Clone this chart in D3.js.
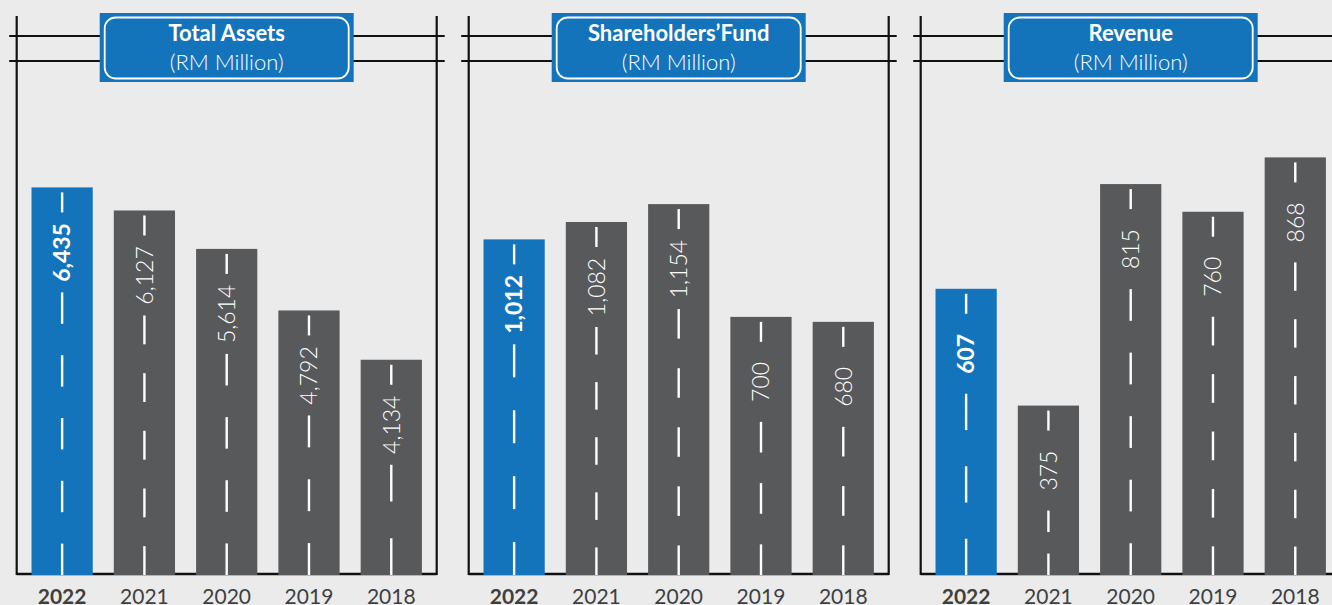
<!DOCTYPE html>
<html>
<head>
<meta charset="utf-8">
<script src="https://cdn.jsdelivr.net/npm/d3@7"></script>
<style>
  html, body { margin: 0; padding: 0; background: #ebebeb; }
  svg { display: block; font-family: Lato, "Noto Sans", sans-serif; }
</style>
</head>
<body>
<div class="chart"></div>
<script>
// data
const years = ["2022", "2021", "2020", "2019", "2018"];
const totalAssets = [6435, 6127, 5614, 4792, 4134];
const shareholdersFund = [1012, 1082, 1154, 700, 680];
const revenue = [607, 375, 815, 760, 868];
const titles = ["Total Assets", "Shareholders\u2019Fund", "Revenue"];
const unitLabel = "(RM Million)";
const highlightYear = "2022";

const W = 1332, H = 605;
const blue = "#1474bb", grey = "#58595b", ink = "#111";
const baseY = 575, topY = 100;
const panelW = 420;

// each panel gets its own y domain (the original bars are not drawn from zero)
const panels = [
    {title: titles[0], values: totalAssets, domain: [1260, 7602], left: 16.7},
    {title: titles[1], values: shareholdersFund, domain: [-339, 1573], left: 468.7},
    {title: titles[2], values: revenue, domain: [38.5, 982], left: 920.7}
];

const svg = d3.select('.chart').append('svg')
    .attr('width', W)
    .attr('height', H)
    .attr('viewBox', '0 0 ' + W + ' ' + H);

svg.append('rect').attr('width', W).attr('height', H).attr('fill', '#ebebeb');

const fmt = d3.format(',');

panels.forEach(p => {
    const left = p.left, right = p.left + panelW;
    const g = svg.append('g').attr('class', 'panel');

    const x = d3.scaleBand()
        .domain(years)
        .range([left, right])
        .paddingInner(21 / 82)
        .paddingOuter(0.18);

    const y = d3.scaleLinear()
        .domain(p.domain)
        .range([baseY, topY]);

    const rows = years.map((yr, i) => ({year: yr, value: p.values[i]}));

    // frame: two rails on top, posts on both sides, ground line
    [36, 61].forEach(ry => {
        g.append('line')
            .attr('x1', left - 7.5).attr('x2', right + 8)
            .attr('y1', ry).attr('y2', ry)
            .attr('stroke', ink).attr('stroke-width', 2.2);
    });
    [left, right].forEach(vx => {
        g.append('line')
            .attr('x1', vx).attr('x2', vx)
            .attr('y1', 16).attr('y2', baseY)
            .attr('stroke', ink).attr('stroke-width', 2.2);
    });
    g.append('line')
        .attr('x1', left).attr('x2', right)
        .attr('y1', baseY - 1).attr('y2', baseY - 1)
        .attr('stroke', ink).attr('stroke-width', 2.5);

    // title sign
    const cx = (left + right) / 2;
    const boxW = 254, boxH = 69;
    g.append('rect')
        .attr('x', cx - boxW / 2).attr('y', 13)
        .attr('width', boxW).attr('height', boxH)
        .attr('fill', blue);
    g.append('rect')
        .attr('x', cx - boxW / 2 + 5).attr('y', 17.5)
        .attr('width', boxW - 10).attr('height', boxH - 8)
        .attr('rx', 11).attr('ry', 11)
        .attr('fill', 'none').attr('stroke', '#fff').attr('stroke-width', 1.8);
    g.append('text')
        .attr('x', cx).attr('y', 41)
        .attr('text-anchor', 'middle')
        .attr('fill', '#fff')
        .style('font-size', '22px').style('font-weight', 700)
        .text(p.title);
    g.append('text')
        .attr('x', cx).attr('y', 70)
        .attr('text-anchor', 'middle')
        .attr('fill', '#fff')
        .style('font-size', '22px').style('font-weight', 300)
        .text(unitLabel);

    // bars
    g.selectAll('.bar')
        .data(rows)
        .enter().append('rect')
        .attr('class', 'bar')
        .attr('x', d => x(d.year))
        .attr('y', d => y(d.value))
        .attr('width', x.bandwidth())
        .attr('height', d => baseY - y(d.value))
        .attr('fill', d => d.year === highlightYear ? blue : grey);

    // road markings: a short dash, the value, then evenly split dashes to the ground
    rows.forEach(d => {
        const bx = x(d.year) + x.bandwidth() / 2;
        const top = y(d.value);
        const dashes = [[top + 5, top + 25]];
        const start = top + 105;
        const len = baseY - start;
        let n = Math.max(1, Math.round((len / 31 - 1) / 2) * 2 + 1);
        const unit = len / n;
        for (let k = 0; k < n; k += 2) dashes.push([start + k * unit, start + (k + 1) * unit]);

        g.selectAll(null)
            .data(dashes)
            .enter().append('line')
            .attr('x1', bx).attr('x2', bx)
            .attr('y1', s => s[0]).attr('y2', s => s[1])
            .attr('stroke', '#fff').attr('stroke-width', 2.4);

        g.append('text')
            .attr('transform', 'translate(' + bx + ',' + (top + 65) + ') rotate(-90)')
            .attr('text-anchor', 'middle')
            .attr('dy', '0.36em')
            .attr('fill', '#fff')
            .style('font-size', '23px')
            .style('font-weight', d.year === highlightYear ? 700 : 300)
            .text(fmt(d.value));
    });

    // year labels
    g.selectAll('.year')
        .data(rows)
        .enter().append('text')
        .attr('class', 'year')
        .attr('x', d => x(d.year) + x.bandwidth() / 2)
        .attr('y', 604)
        .attr('text-anchor', 'middle')
        .attr('fill', '#3f3f3f')
        .style('font-size', '21px')
        .style('font-weight', d => d.year === highlightYear ? 700 : 400)
        .text(d => d.year);
});
</script>
</body>
</html>
